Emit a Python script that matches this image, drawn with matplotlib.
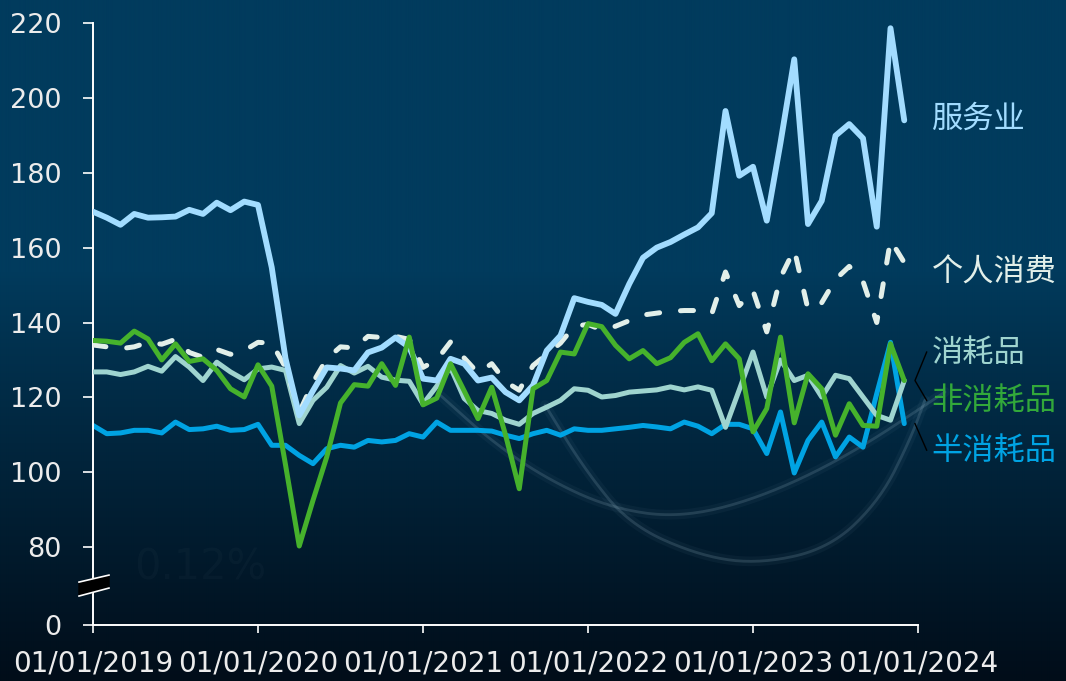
import numpy as np
import matplotlib
matplotlib.use('Agg')
import matplotlib.pyplot as plt
from matplotlib.colors import to_rgb

plt.rcParams['font.family'] = ['DejaVu Sans']

# ---------------- data (monthly, Jan 2019 .. Dec 2023) ----------------
months = np.arange(60)
year_ticks = [0, 12, 24, 36, 48, 60]
year_labels = ['01/01/2019', '01/01/2020', '01/01/2021',
               '01/01/2022', '01/01/2023', '01/01/2024']
ytick_vals = [80, 100, 120, 140, 160, 180, 200, 220]

services = [169.6, 168.0, 166.1, 169.0, 168.0, 168.1, 168.3, 170.1, 169.0, 172.0,
            170.0, 172.3, 171.4, 154.7, 130.4, 115.2, 121.8, 128.0, 127.7, 127.2,
            132.0, 133.3, 136.0, 133.4, 125.0, 124.5, 130.3, 129.0, 124.5, 125.3,
            121.4, 119.2, 123.2, 132.5, 136.5, 146.5, 145.5, 144.7, 142.3, 150.3,
            157.3, 160.0, 161.5, 163.5, 165.4, 169.2, 196.5, 179.2, 181.6, 167.2,
            188.0, 210.3, 166.3, 172.5, 189.9, 193.0, 189.2, 165.6, 218.6, 194.0]

personal = [134.0, 133.5, 133.0, 133.5, 134.7, 134.2, 135.5, 132.0, 130.7, 132.8,
            131.5, 132.5, 134.7, 134.5, 128.0, 116.0, 124.0, 130.3, 133.5, 133.2,
            136.3, 136.0, 136.3, 135.5, 128.0, 130.0, 134.8, 130.5, 126.5, 129.0,
            124.2, 121.9, 128.5, 131.5, 134.5, 139.0, 139.5, 138.0, 139.0, 140.5,
            142.0, 142.5, 143.0, 143.2, 143.2, 142.3, 153.5, 144.5, 148.5, 137.5,
            152.0, 159.5, 143.5, 145.3, 151.5, 155.0, 151.0, 140.0, 162.0, 156.0]

consumables = [126.8, 126.8, 126.1, 126.8, 128.3, 127.0, 130.9, 128.1, 124.5, 129.4,
               126.8, 124.7, 127.6, 128.1, 127.2, 113.0, 119.2, 122.7, 128.5, 126.5,
               128.3, 125.4, 124.6, 124.3, 118.2, 123.0, 128.0, 119.7, 116.5, 115.7,
               113.9, 112.8, 115.7, 117.4, 119.2, 122.3, 121.9, 120.1, 120.5, 121.4,
               121.7, 122.0, 122.8, 122.0, 122.8, 121.9, 112.0, 122.0, 132.1, 120.1,
               130.0, 124.5, 125.9, 120.1, 125.9, 125.0, 120.1, 115.2, 113.9, 124.5]

nonconsumables = [135.2, 135.0, 134.5, 137.7, 135.6, 130.0, 134.3, 129.6, 130.3, 127.2,
                  122.3, 120.1, 128.7, 123.0, 102.0, 80.3, 92.5, 104.1, 118.5, 123.4,
                  123.0, 129.0, 123.2, 136.1, 118.0, 119.8, 129.0, 121.7, 114.3, 122.7,
                  110.0, 95.6, 122.3, 124.5, 132.1, 131.6, 139.7, 138.9, 133.9, 130.3,
                  132.5, 129.0, 130.6, 134.7, 137.0, 129.8, 134.3, 130.3, 110.8, 117.0,
                  136.1, 113.2, 126.3, 122.3, 109.9, 118.3, 112.5, 112.3, 134.3, 124.5]

semiconsumables = [112.5, 110.3, 110.5, 111.2, 111.2, 110.5, 113.4, 111.4, 111.6, 112.3,
                   111.2, 111.4, 112.8, 107.2, 107.2, 104.5, 102.3, 106.3, 107.2, 106.7,
                   108.5, 108.1, 108.5, 110.3, 109.4, 113.4, 111.2, 111.2, 111.2, 111.0,
                   109.9, 109.0, 110.3, 111.2, 109.9, 111.6, 111.2, 111.2, 111.6, 112.0,
                   112.5, 112.1, 111.6, 113.4, 112.3, 110.3, 112.8, 112.8, 111.6, 105.0,
                   116.1, 99.8, 108.5, 113.4, 104.1, 109.4, 106.7, 121.0, 134.7, 113.0]

labels = ['服务业', '个人消费', '消耗品', '非消耗品', '半消耗品']

# ---------------- styling ----------------
C_SERV = '#a2dcff'
C_PERS = '#e2efe9'
C_CONS = '#9fd4cf'
C_NON = '#46b22c'
C_NON_TXT = '#32a83a'
C_SEMI = '#00a3e3'
TXT = '#ececec'

W, H = 1066, 681
fig = plt.figure(figsize=(W / 100, H / 100), dpi=100)

# background gradient
bg = fig.add_axes([0, 0, 1, 1])
bg.set_axis_off()
top = np.array(to_rgb('#013b5d'))
bot = np.array(to_rgb('#010d19'))
yy = np.linspace(0, 1, H)
t = np.clip((yy - 0.40) / 0.60, 0, 1) ** 0.9
col = top[None, :] * (1 - t[:, None]) + bot[None, :] * t[:, None]
img = np.repeat(col[:, None, :], 8, axis=1)
bg.imshow(img, extent=[0, W, H, 0], aspect='auto', interpolation='bilinear')
bg.set_xlim(0, W)
bg.set_ylim(H, 0)


def chaikin(pts, n=4):
    p = np.asarray(pts, float)
    for _ in range(n):
        q = 0.75 * p[:-1] + 0.25 * p[1:]
        r = 0.25 * p[:-1] + 0.75 * p[1:]
        new = np.empty((2 * len(q), 2))
        new[0::2] = q
        new[1::2] = r
        p = np.vstack([p[:1], new, p[-1:]])
    return p


# faint decorative glow curves of the background picture
arc1 = chaikin([(440, 395), (490, 440), (545, 478), (610, 508), (680, 518),
                (760, 498), (850, 455), (945, 392)])
arc2 = chaikin([(545, 405), (585, 470), (630, 525), (700, 556), (760, 564),
                (830, 548), (880, 500), (910, 440), (925, 400)])
for arc in (arc1, arc2):
    bg.plot(arc[:, 0], arc[:, 1], color='#8fb8cc', lw=7, alpha=0.05, solid_capstyle='round')
    bg.plot(arc[:, 0], arc[:, 1], color='#a9c9d8', lw=2, alpha=0.17, solid_capstyle='round')
bg.text(200, 567, '0.12%', color='white', alpha=0.025, fontsize=30, ha='center', va='center')

# main axes
ax = fig.add_axes([93 / W, 1 - 625 / H, (918 - 93) / W, (625 - 23) / H])
ax.patch.set_alpha(0)
y_zero = 80 - 78 * 20 / 75  # broken axis: "0" sits below 80
ax.set_xlim(0, 60)
ax.set_ylim(y_zero, 220)

lw = 3.6
ax.plot(months, semiconsumables, color=C_SEMI, lw=lw, solid_joinstyle='round',
        solid_capstyle='round', zorder=2)
ax.plot(months, consumables, color=C_CONS, lw=lw, solid_joinstyle='round',
        solid_capstyle='round', zorder=3)
pl, = ax.plot(months, personal, color=C_PERS, lw=lw, zorder=4)
pl.set_dashes((2.6, 4.2))
pl.set_dash_capstyle('round')
pl.set_dash_joinstyle('round')
ax.plot(months, services, color=C_SERV, lw=4.2, solid_joinstyle='round',
        solid_capstyle='round', zorder=5)
ax.plot(months, nonconsumables, color=C_NON, lw=lw, solid_joinstyle='round',
        solid_capstyle='round', zorder=6)

# spines and ticks
for s in ('top', 'right'):
    ax.spines[s].set_visible(False)
for s in ('left', 'bottom'):
    ax.spines[s].set_color('white')
    ax.spines[s].set_linewidth(1.4)
ax.set_yticks([y_zero] + ytick_vals)
ax.set_yticklabels(['0'] + [str(v) for v in ytick_vals])
ax.set_xticks(year_ticks)
ax.set_xticklabels(year_labels)
ax.tick_params(axis='y', colors='white', labelcolor=TXT, length=7.5, width=1.2,
               pad=15, labelsize=19.5)
ax.tick_params(axis='x', colors='white', labelcolor=TXT, length=6, width=1.2,
               pad=12, labelsize=20)

# axis break marker
px = 1 / 13.75          # months per pixel
pv = 20 / 75            # value per pixel
bx = np.array([-14, 16, 16, -14]) * px
by = 80 - (np.array([582, 575, 588, 596]) - 547) * pv
ax.fill(bx, by, color='black', zorder=10, clip_on=False)
ax.plot(bx[:2], by[:2], color='white', lw=1.2, zorder=11, clip_on=False)
ax.plot(bx[2:], by[2:], color='white', lw=1.2, zorder=11, clip_on=False)

# series labels on the right
lab_x = 61.0
lab_specs = [(labels[0], 194.5, C_SERV), (labels[1], 153.2, C_PERS),
             (labels[2], 131.8, C_CONS), (labels[3], 119.0, C_NON_TXT),
             (labels[4], 105.6, C_SEMI)]
for txt, yv, c in lab_specs:
    ax.text(lab_x, yv, txt, color=c, fontsize=22.5, ha='left', va='center',
            family=['Noto Sans CJK SC', 'DejaVu Sans'], clip_on=False)

# bracket connectors from line ends to labels
cx0 = 59.78
cx1 = 60.63
ax.plot([cx1, cx0, cx1], [132.1, nonconsumables[-1], 119.2], color='black', lw=1,
        clip_on=False, zorder=7)
ax.plot([cx0, cx1], [semiconsumables[-1], 105.9], color='black', lw=1,
        clip_on=False, zorder=7)

fig.savefig('out.png', dpi=100)
